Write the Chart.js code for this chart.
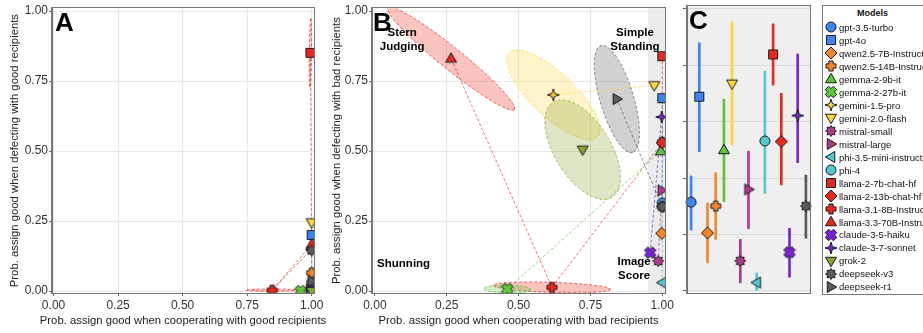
<!DOCTYPE html>
<html lang="en">
<head>
<meta charset="UTF-8" />
<title>Reputation assignment by model</title>
<style>
  body{margin:0;background:#fff;font-family:"Liberation Sans",Arial,sans-serif;width:923px;height:333px;overflow:hidden;position:relative}
  canvas.chart{position:absolute;top:0}
  #cA{left:0} #cB{left:330px} #cC{left:676px}
  #legend{position:absolute;left:822px;top:5px;width:140px;height:290px;border:1px solid #777;box-sizing:border-box;background:#fff}
  #legend .ttl{position:absolute;left:0;width:99px;top:2px;text-align:center;font-weight:bold;font-size:9px;line-height:11px;color:#111}
  #legend .row{position:absolute;left:1px;height:13px;display:flex;align-items:center;font-size:9.5px;white-space:nowrap;color:#111}
</style>
<script src="https://cdn.jsdelivr.net/npm/chart.js"></script>
</head>
<body>
<canvas id="cA" class="chart" width="330" height="333"></canvas>
<canvas id="cB" class="chart" width="346" height="333"></canvas>
<canvas id="cC" class="chart" width="140" height="333"></canvas>
<div id="legend"><div class="ttl">Models</div></div>

<script>
const models=['gpt-3.5-turbo','gpt-4o','qwen2.5-7B-Instruct','qwen2.5-14B-Instruct','gemma-2-9b-it','gemma-2-27b-it','gemini-1.5-pro','gemini-2.0-flash','mistral-small','mistral-large','phi-3.5-mini-instruct','phi-4','llama-2-7b-chat-hf','llama-2-13b-chat-hf','llama-3.1-8B-Instruct','llama-3.3-70B-Instruct','claude-3-5-haiku','claude-3-7-sonnet','grok-2','deepseek-v3','deepseek-r1'];

// panel A: good recipients
const goodCoopX=[1.0,1.0,1.0,1.0,1.0,0.957,1.0,1.0,1.0,1.0,1.0,1.0,0.995,1.0,0.847,1.0,1.0,1.0,1.0,1.0,1.0];
const goodDefY=[0.01,0.20,0.02,0.065,0.0,0.0,0.01,0.245,0.0,0.02,0.0,0.03,0.851,0.15,0.003,0.167,0.0,0.01,0.0,0.145,0.035];

// panel B: bad recipients
const badCoopX=[1.0,1.0,0.998,1.0,0.995,0.461,0.621,0.972,0.986,0.998,1.0,1.0,1.0,1.0,0.616,0.265,0.958,0.998,0.723,1.0,0.842];
const badDefY=[0.315,0.689,0.206,0.301,0.50,0.007,0.701,0.735,0.107,0.36,0.03,0.532,0.839,0.53,0.013,0.831,0.137,0.622,0.505,0.301,0.686];

// panel C: models near full cooperation with bad recipients, with intervals
const cModels=[0,1,2,3,4,7,8,9,10,11,12,13,16,17,19];
const ciLow=[0.216,0.494,0.10,0.183,0.317,0.518,0.029,0.221,0.0,0.346,0.73,0.376,0.049,0.455,0.187];
const ciHigh=[0.408,0.88,0.312,0.42,0.68,0.955,0.183,0.496,0.064,0.78,0.947,0.701,0.222,0.84,0.411];

// model families joined by dashed lines
const families=[[0,1],[2,3],[4,5],[6,7],[8,9],[10,11],[12,13,14,15],[16,17],[19,20]];

// uncertainty ellipses: model, end of major axis (x,y), minor half-axis
const ellipsesA=[[14,0.95,0.003,0.004],[12,0.997,0.975,0.004]];
const ellipsesB=[[15,0.485,0.649,0.039],[6,0.775,0.551,0.078],[18,0.825,0.335,0.1],[20,0.897,0.495,0.06],[14,0.82,0.006,0.018],[5,0.543,0.005,0.014]];

const tickVals=[0,0.25,0.5,0.75,1];
const cTickVals=[0,0.2,0.4,0.6,0.8,1];

const modelColors=['#3a86f5','#3a86f5','#f5862a','#f5862a','#5ec43a','#5ec43a','#ffd43d','#ffd43d','#ae3a8c','#ae3a8c','#52c8d0','#52c8d0','#e8271d','#e8271d','#e8271d','#e8271d','#7b22d6','#7b22d6','#86a630','#5b5b5b','#5b5b5b'];
const modelShapes=['circle','square','diamond','plus','triUp','x','star4','triDown','gear','triRight','triLeft','circle','square','diamond','plus','triUp','x','star4','triDown','gear','triRight'];

const FONT='"Liberation Sans", Arial, sans-serif';
const TITLE_SIZE=11.3;

function fade(hex,a){const n=parseInt(hex.slice(1),16);return `rgba(${n>>16},${(n>>8)&255},${n&255},${a})`;}

function makeMarker(shape,fill,size){
  const s=size+4,c=document.createElement('canvas');
  c.width=c.height=s;
  const g=c.getContext('2d'),h=s/2,r=size/2;
  const poly=pts=>{pts.forEach(([px,py],k)=>k?g.lineTo(h+px,h+py):g.moveTo(h+px,h+py));g.closePath();};
  const cross=(rot,k)=>{const w=r*0.42*k,L=r*k;const base=[[-w,-L],[w,-L],[w,-w],[L,-w],[L,w],[w,w],[w,L],[-w,L],[-w,w],[-L,w],[-L,-w],[-w,-w]];
    const cs=Math.cos(rot),sn=Math.sin(rot);poly(base.map(([a,b])=>[a*cs-b*sn,a*sn+b*cs]));};
  const star=(n,ro,ri)=>{const p=[];for(let k=0;k<2*n;k++){const ang=k*Math.PI/n,rr=k%2?ri:ro;p.push([rr*Math.sin(ang),-rr*Math.cos(ang)]);}poly(p);};
  g.beginPath();
  switch(shape){
    case 'circle':g.arc(h,h,r,0,Math.PI*2);break;
    case 'square':g.rect(h-r*0.9,h-r*0.9,r*1.8,r*1.8);break;
    case 'diamond':poly([[0,-r*1.2],[r*1.2,0],[0,r*1.2],[-r*1.2,0]]);break;
    case 'plus':cross(0,1);break;
    case 'x':cross(Math.PI/4,1.15);break;
    case 'triUp':poly([[0,-r*1.15],[r*1.1,r*0.75],[-r*1.1,r*0.75]]);break;
    case 'triDown':poly([[0,r*1.15],[r*1.1,-r*0.75],[-r*1.1,-r*0.75]]);break;
    case 'triRight':poly([[r*1.15,0],[-r*0.75,-r*1.1],[-r*0.75,r*1.1]]);break;
    case 'triLeft':poly([[-r*1.15,0],[r*0.75,-r*1.1],[r*0.75,r*1.1]]);break;
    case 'star4':star(4,r*1.2,r*0.4);break;
    case 'gear':star(8,r*1.1,r*0.75);break;
  }
  g.fillStyle=fill;g.fill();g.lineWidth=1;g.strokeStyle='#1a1a1a';g.stroke();
  return c;
}
const markers=models.map((m,i)=>makeMarker(modelShapes[i],modelColors[i],10));

// x title is drawn by hand so Chart.js does not squeeze it into the plot width
function xAxis(min,max){
  return {type:'linear',min,max,
    afterBuildTicks:s=>{s.ticks=tickVals.map(v=>({value:v}));},
    afterFit:s=>{s.height=40;},
    ticks:{callback:v=>Number(v).toFixed(2),color:'#333',font:{family:FONT,size:12},padding:2,maxRotation:0,autoSkip:false},
    grid:{color:'#e8e8e8',tickColor:'#666',tickLength:3},
    border:{color:'#777'}};
}
function yAxis(title,width,tpad){
  return {type:'linear',min:-0.0071,max:1.0106,
    afterBuildTicks:s=>{s.ticks=tickVals.map(v=>({value:v}));},
    afterFit:s=>{s.width=width;},
    ticks:{callback:v=>Number(v).toFixed(2),color:'#333',font:{family:FONT,size:12},padding:1,autoSkip:false},
    grid:{color:'#e8e8e8',tickColor:'#666',tickLength:3},
    border:{color:'#777'},
    title:{display:true,text:title,color:'#222',font:{family:FONT,size:TITLE_SIZE},padding:{top:tpad,bottom:0}}};
}

function scatterSets(xs,ys){
  const sets=[];
  families.forEach(f=>sets.push({showLine:true,data:f.map(i=>({x:xs[i],y:ys[i]})),borderColor:fade(modelColors[f[0]],0.65),borderDash:[3,2],borderWidth:1,pointRadius:0,order:100}));
  models.forEach((m,i)=>sets.push({label:m,data:[{x:xs[i],y:ys[i]}],pointStyle:markers[i],pointRadius:5,order:50-i}));
  return sets;
}

function ellipsePlugin(list,xs,ys){
  return {id:'ellipses',beforeDatasetsDraw(chart){
    const {ctx,chartArea:a,scales:{x,y}}=chart;
    ctx.save();ctx.beginPath();ctx.rect(a.left,a.top,a.width,a.height);ctx.clip();
    list.forEach(([i,ex,ey,minor])=>{
      const cx=x.getPixelForValue(xs[i]),cy=y.getPixelForValue(ys[i]);
      const px=x.getPixelForValue(ex),py=y.getPixelForValue(ey);
      const ra=Math.hypot(px-cx,py-cy),rot=Math.atan2(py-cy,px-cx);
      const rb=Math.abs(y.getPixelForValue(0)-y.getPixelForValue(minor));
      ctx.beginPath();ctx.ellipse(cx,cy,ra,rb,rot,0,Math.PI*2);
      ctx.fillStyle=fade(modelColors[i],0.28);ctx.fill();
      ctx.setLineDash([3,2]);ctx.lineWidth=1;ctx.strokeStyle=fade(modelColors[i],0.7);ctx.stroke();
    });
    ctx.restore();
  }};
}
function boxPlugin(bg,band,xTitle){
  return {id:'box',
    beforeDraw(chart){
      const {ctx,chartArea:a}=chart;
      ctx.save();
      if(bg){ctx.fillStyle=bg;ctx.fillRect(a.left,a.top,a.width,a.height);}
      if(band){const x0=chart.scales.x.getPixelForValue(band);ctx.fillStyle='#ececec';ctx.fillRect(x0,a.top,a.right-x0,a.height);}
      ctx.restore();
    },
    afterDraw(chart){
      const {ctx,chartArea:a}=chart;
      ctx.save();ctx.strokeStyle='#777';ctx.lineWidth=1;
      ctx.strokeRect(Math.round(a.left)-0.5,Math.round(a.top)-0.5,Math.round(a.width)+1,Math.round(a.height)+1);
      if(xTitle){
        ctx.fillStyle='#222';ctx.font=TITLE_SIZE+'px '+FONT;ctx.textAlign='center';ctx.textBaseline='middle';
        ctx.fillText(xTitle,(a.left+a.right)/2,chart.height-12.5);
      }
      ctx.restore();
    }};
}
function textPlugin(letter,dx,notes){
  return {id:'texts',afterDatasetsDraw(chart){
    const {ctx,chartArea:a,scales}=chart;
    ctx.save();ctx.fillStyle='#000';
    ctx.font='bold 26px '+FONT;ctx.textAlign='left';ctx.textBaseline='alphabetic';
    ctx.fillText(letter,a.left+dx,a.top+23);
    ctx.font='bold 11.5px '+FONT;ctx.textAlign='center';ctx.textBaseline='middle';
    (notes||[]).forEach(n=>{
      const cx=scales.x.getPixelForValue(n.x),cy=scales.y.getPixelForValue(n.y);
      n.lines.forEach((t,k)=>ctx.fillText(t,cx,cy+(k-(n.lines.length-1)/2)*14));
    });
    ctx.restore();
  }};
}

const baseOpts=(pad)=>({responsive:false,animation:false,devicePixelRatio:1,events:[],layout:{padding:pad},
  plugins:{legend:{display:false},tooltip:{enabled:false}}});

new Chart(document.getElementById('cA'),{
  type:'scatter',
  data:{datasets:scatterSets(goodCoopX,goodDefY)},
  options:Object.assign(baseOpts({top:6,right:16,left:0,bottom:0}),{scales:{
    x:xAxis(-0.006,1.009),
    y:yAxis('Prob. assign good when defecting with good recipients',52,8)}}),
  plugins:[boxPlugin(null,null,'Prob. assign good when cooperating with good recipients'),ellipsePlugin(ellipsesA,goodCoopX,goodDefY),textPlugin('A',3,[])]
});

new Chart(document.getElementById('cB'),{
  type:'scatter',
  data:{datasets:scatterSets(badCoopX,badDefY)},
  options:Object.assign(baseOpts({top:6,right:3,left:0,bottom:0}),{scales:{
    x:xAxis(-0.01,1.01),
    y:yAxis('Prob. assign good when defecting with bad recipients',42,0)}}),
  plugins:[boxPlugin(null,0.95,'Prob. assign good when cooperating with bad recipients'),ellipsePlugin(ellipsesB,badCoopX,badDefY),textPlugin('B',1,[
    {lines:['Stern','Judging'],x:0.095,y:0.898},
    {lines:['Simple','Standing'],x:0.905,y:0.899},
    {lines:['Shunning'],x:0.1,y:0.098},
    {lines:['Image','Score'],x:0.902,y:0.078}])]
});

new Chart(document.getElementById('cC'),{
  type:'bar',
  data:{labels:cModels.map(i=>models[i]),datasets:[
    {type:'line',data:cModels.map(i=>badDefY[i]),showLine:false,pointStyle:cModels.map(i=>markers[i]),pointRadius:5,order:0},
    {type:'bar',data:cModels.map((i,k)=>[ciLow[k],ciHigh[k]]),backgroundColor:cModels.map(i=>modelColors[i]),barThickness:2,borderWidth:0,order:1}
  ]},
  options:Object.assign(baseOpts({top:6,right:4,left:0,bottom:40}),{scales:{
    x:{display:false,offset:true},
    y:{type:'linear',min:-0.0071,max:1.0106,
      afterBuildTicks:s=>{s.ticks=cTickVals.map(v=>({value:v}));},
      afterFit:s=>{s.width=11;},
      ticks:{display:false},
      grid:{color:'#d8d8d8',tickColor:'#666',tickLength:4},
      border:{color:'#777'}}}}),
  plugins:[boxPlugin('#efefef',null,null),textPlugin('C',2,[])]
});

const leg=document.getElementById('legend');
models.forEach((m,i)=>{
  const row=document.createElement('div');row.className='row';
  row.style.top=(14.8+12.98*i)+'px';
  row.appendChild(makeMarker(modelShapes[i],modelColors[i],10));
  const sp=document.createElement('span');sp.textContent=m;sp.style.marginLeft='1px';
  row.appendChild(sp);leg.appendChild(row);
});
</script>
</body>
</html>
